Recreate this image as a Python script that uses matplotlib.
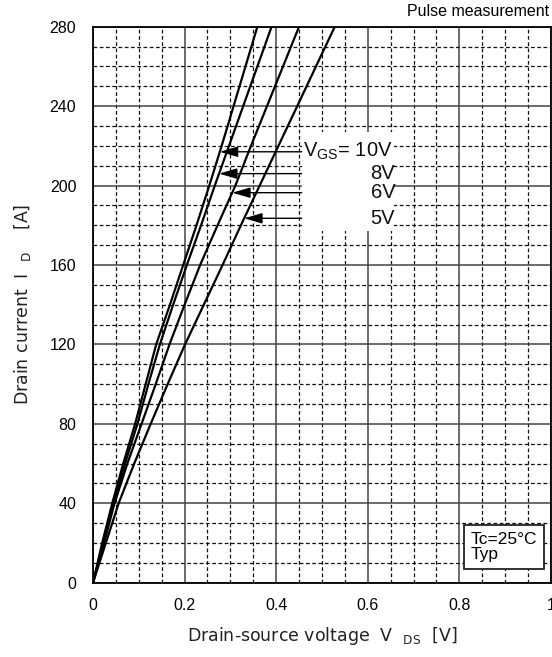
import numpy as np
import matplotlib
matplotlib.use("Agg")
import matplotlib.pyplot as plt
from matplotlib.ticker import MultipleLocator

# ---- data ----
current = [0, 20, 40, 60, 80, 100, 120, 140, 160, 180, 200, 220, 240, 260, 280]
vds_10v = [0, 0.020, 0.042, 0.066, 0.092, 0.115, 0.138, 0.168, 0.197, 0.226, 0.254, 0.281, 0.307, 0.333, 0.359]
vds_8v = [0, 0.023, 0.045, 0.070, 0.097, 0.121, 0.146, 0.175, 0.205, 0.236, 0.266, 0.297, 0.328, 0.359, 0.390]
vds_6v = [0, 0.024, 0.047, 0.075, 0.106, 0.137, 0.167, 0.200, 0.234, 0.272, 0.311, 0.345, 0.380, 0.415, 0.450]
vds_5v = [0, 0.028, 0.056, 0.090, 0.126, 0.163, 0.201, 0.242, 0.283, 0.323, 0.364, 0.405, 0.446, 0.487, 0.528]
series = [vds_10v, vds_8v, vds_6v, vds_5v]
series_labels = ["10V", "8V", "6V", "5V"]
arrow_current = [217, 206, 196.4, 183.5]   # current level at which each arrow points
x_ticks = [0, 0.2, 0.4, 0.6, 0.8, 1]
x_ticklabels = ["0", "0.2", "0.4", "0.6", "0.8", "1"]
y_ticks = [0, 40, 80, 120, 160, 200, 240, 280]

fig = plt.figure(figsize=(5.52, 6.57), dpi=100)
ax = fig.add_axes([0.1685, 0.1131, 0.8295, 0.8463])
ax.set_xlim(0, 1)
ax.set_ylim(0, 280)

ax.xaxis.set_major_locator(MultipleLocator(0.2))
ax.xaxis.set_minor_locator(MultipleLocator(0.05))
ax.yaxis.set_major_locator(MultipleLocator(40))
ax.yaxis.set_minor_locator(MultipleLocator(10))
ax.grid(which="major", color="#444444", lw=1.1, ls="-")
ax.grid(which="minor", color="#111111", lw=0.9, ls=(0, (3, 2)))
ax.set_axisbelow(True)
ax.tick_params(which="both", length=0)

tick_font = dict(fontfamily="Liberation Sans", fontsize=11.5, color="black")
ax.set_xticks(x_ticks)
ax.set_xticklabels(x_ticklabels, **tick_font)
ax.set_yticks(y_ticks)
ax.set_yticklabels([str(v) for v in y_ticks], **tick_font)
ax.tick_params(axis="x", pad=11)
ax.tick_params(axis="y", pad=12)
for sp in ax.spines.values():
    sp.set_color("black")
    sp.set_linewidth(1.3)

for s in series:
    ax.plot(s, current, color="black", lw=1.6, solid_capstyle="round", zorder=3)

# white box behind the VGS labels
ax.add_patch(plt.Rectangle((0.457, 177), 0.2, 50, transform=ax.transData,
                           facecolor="white", edgecolor="none", zorder=2))

lab_font = dict(fontfamily="Liberation Sans", fontsize=14.5, color="#111111")
for s, lab, lvl in zip(series, series_labels, arrow_current):
    tip = np.interp(lvl, current, s)
    ax.annotate("", xy=(tip, lvl), xytext=(0.4557, lvl),
                arrowprops=dict(arrowstyle="-|>,head_length=1.1,head_width=0.32",
                                color="black", lw=1.0, shrinkA=0, shrinkB=0),
                zorder=4)
    if lab == "10V":
        ax.text(0.4585, lvl, r"V$_{\mathregular{GS}}$= 10V", ha="left", va="center",
                zorder=5, **lab_font)
    else:
        ax.text(0.66, lvl, lab, ha="right", va="center", zorder=5, **lab_font)

# Tc box
ax.text(0.825, 18, "Tc=25°C\nTyp", ha="left", va="center", fontfamily="Liberation Sans",
        fontsize=12.5, linespacing=0.95, zorder=5,
        bbox=dict(boxstyle="square,pad=0.4", facecolor="white", edgecolor="#222222", lw=1.3))

fig.text(0.994, 0.982, "Pulse measurement", ha="right", va="center",
         fontfamily="Liberation Sans", fontsize=11.5)

ax.set_xlabel(r"Drain-source voltage  V  $_{\mathregular{DS}}$  [V]",
              fontfamily="DejaVu Sans", fontsize=12.5, color="#222222", labelpad=9)
ax.set_ylabel(r"Drain current  I  $_{\mathregular{D}}$    [A]",
              fontfamily="DejaVu Sans", fontsize=12.5, color="#222222", labelpad=12)

fig.savefig("out.png", dpi=100)
